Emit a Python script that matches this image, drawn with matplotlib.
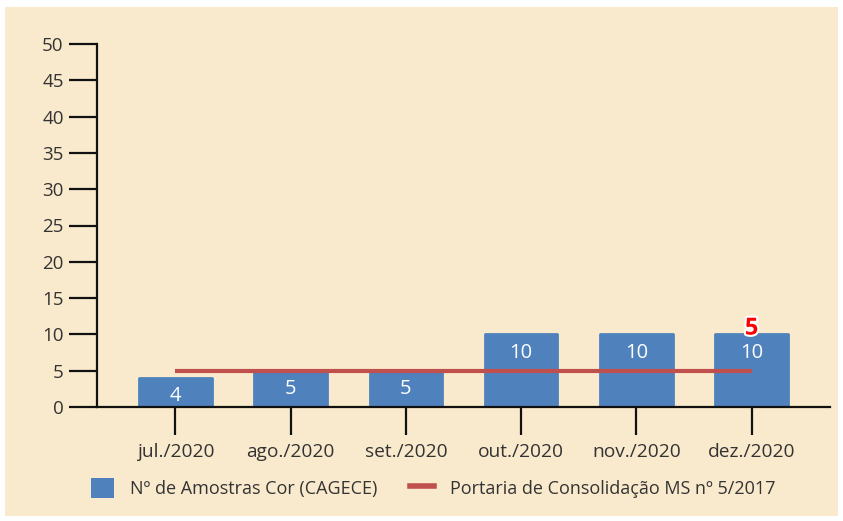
import matplotlib
matplotlib.use("Agg")
import matplotlib.pyplot as plt
import matplotlib.patheffects as pe
from matplotlib.patches import Rectangle
from matplotlib.lines import Line2D

categories = ["jul./2020", "ago./2020", "set./2020", "out./2020", "nov./2020", "dez./2020"]
amostras = [4, 5, 5, 10, 10, 10]
portaria = [5, 5, 5, 5, 5, 5]
yticks = [0, 5, 10, 15, 20, 25, 30, 35, 40, 45, 50]

W, H = 843, 521
dpi = 100
plt.rcParams['font.family'] = ['Open Sans', 'DejaVu Sans']
fig = plt.figure(figsize=(W / dpi, H / dpi), dpi=dpi, facecolor="white")
bg = "#FAEACD"
fig.patches.append(Rectangle((5 / W, 5 / H), 833 / W, 509 / H, transform=fig.transFigure,
                             facecolor=bg, edgecolor="none", zorder=-10))

ax = fig.add_axes([97 / W, 1 - 407 / H, (830 - 97) / W, (407 - 44) / H])
ax.set_facecolor("none")
x = list(range(len(categories)))
bar_color = "#4F81BD"
line_color = "#C0504D"
bars = ax.bar(x, amostras, width=0.63, color=bar_color, edgecolor=bar_color,
              linewidth=2.0, zorder=2)
for b in bars:
    b.set_joinstyle("round")
for xi, v in zip(x, amostras):
    ax.text(xi, v - 2.5, str(v), ha="center", va="center", color="white", fontsize=14.5, zorder=4)
ax.plot(x, portaria, color=line_color, lw=3, zorder=3, solid_capstyle="butt")
ax.text(x[-1], portaria[-1] + 5.8, str(portaria[-1]), ha="center", va="center",
        color="#FF0000", fontsize=17, fontweight="bold", zorder=5,
        path_effects=[pe.withStroke(linewidth=3, foreground="white")])

ax.set_xlim(-0.68, len(categories) - 1 + 0.68)
ax.set_ylim(0, 50)
ax.set_yticks(yticks)
ax.set_xticks(x)
ax.set_xticklabels(categories)
for s in ["top", "right"]:
    ax.spines[s].set_visible(False)
for s in ["left", "bottom"]:
    ax.spines[s].set_linewidth(1.6)
    ax.spines[s].set_color("#111111")
ax.tick_params(axis="y", length=20, width=1.6, color="#111111", labelsize=13.5,
               labelcolor="#333333", pad=4)
ax.tick_params(axis="x", length=20, width=1.6, color="#111111", labelsize=13.8,
               labelcolor="#333333", pad=6)

handles = [Rectangle((0, 0), 1, 1, facecolor=bar_color, edgecolor="none"),
           Line2D([0], [0], color=line_color, lw=4)]
fig.legend(handles, ["Nº de Amostras Cor (CAGECE)", "Portaria de Consolidação MS nº 5/2017"],
           loc="center", bbox_to_anchor=(433 / W, 1 - 488 / H), ncol=2, frameon=False,
           fontsize=13, labelcolor="#333333", handlelength=1.3, handleheight=1.3,
           columnspacing=1.8, handletextpad=0.9)

fig.savefig("out.png", dpi=dpi, facecolor="white")
